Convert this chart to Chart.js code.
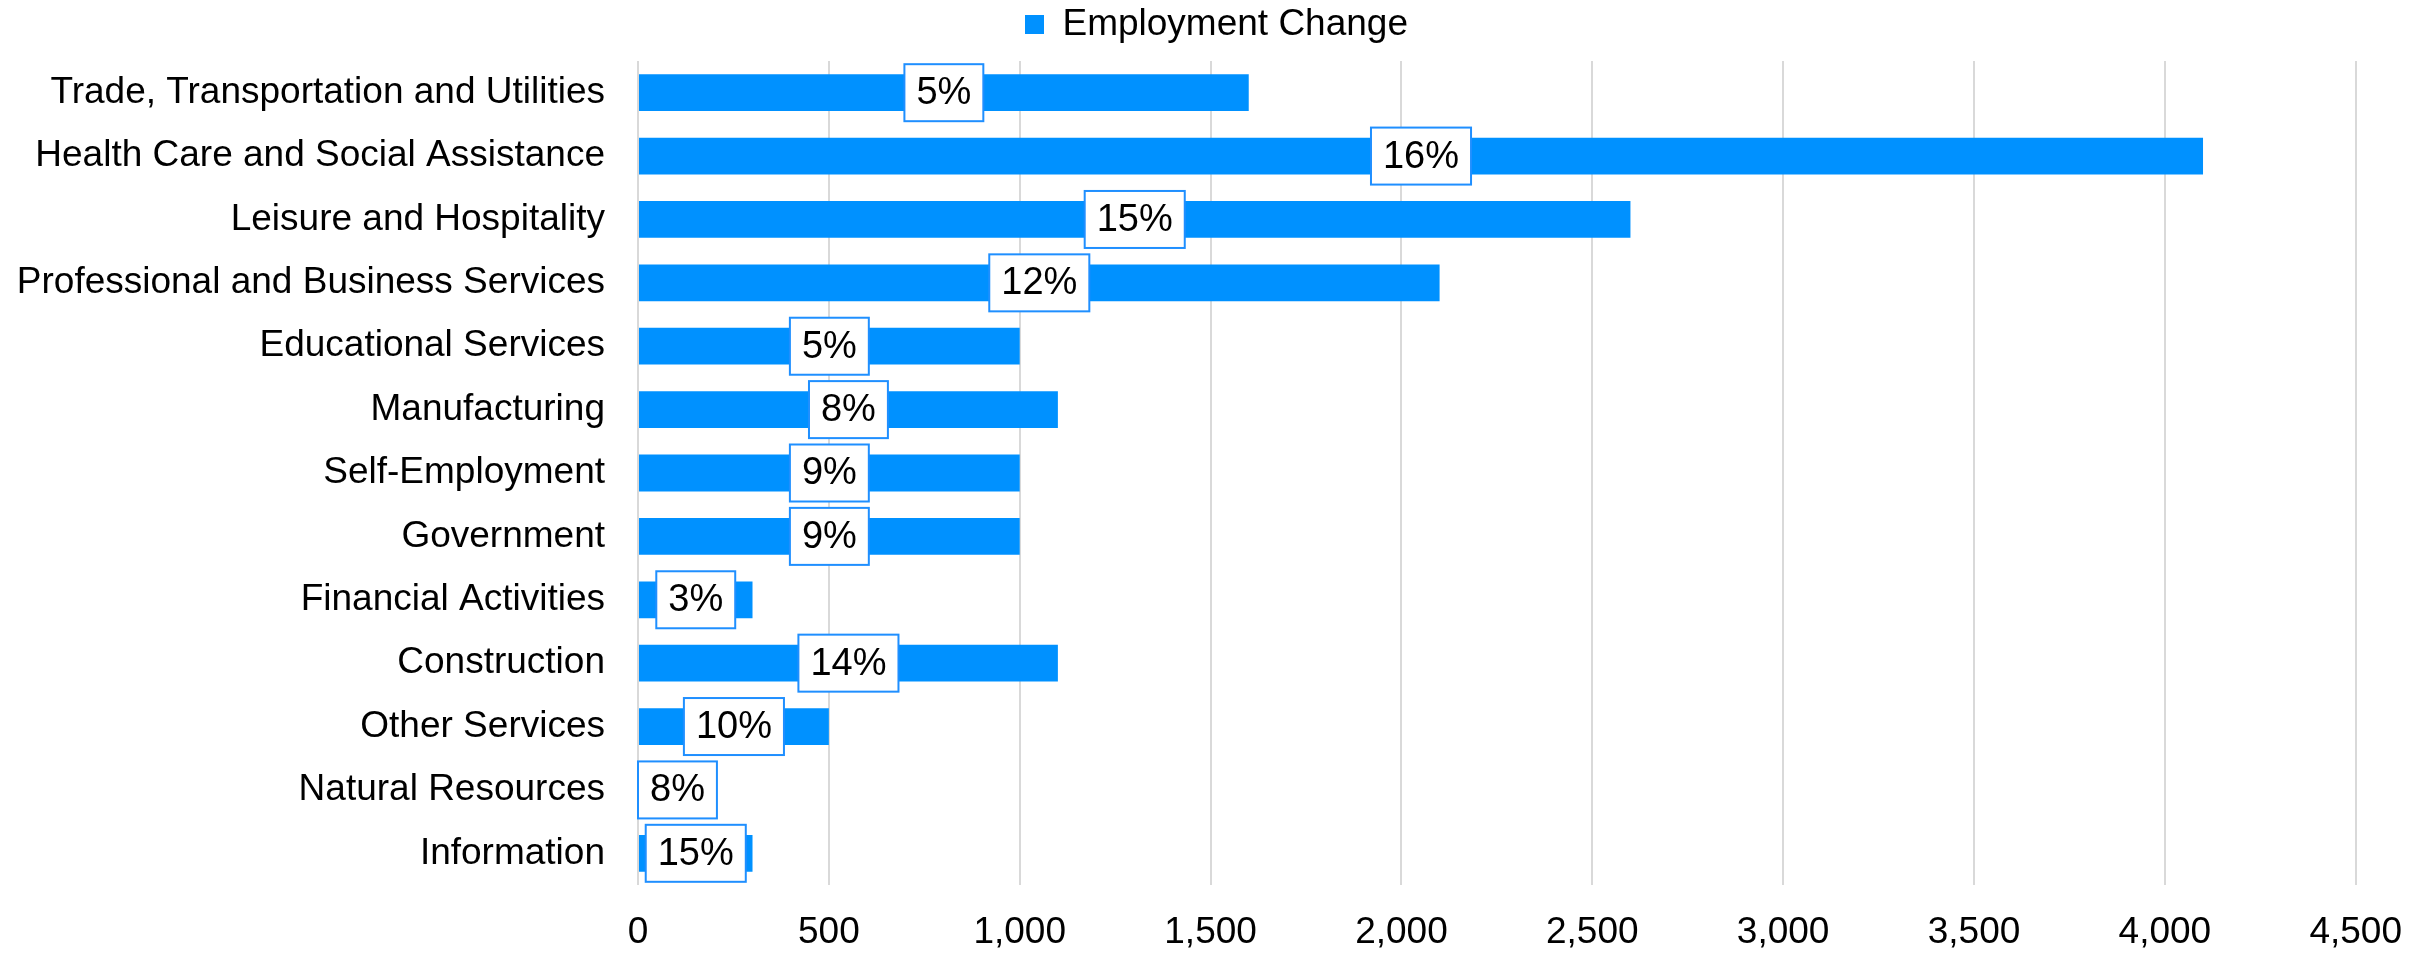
<!DOCTYPE html>
<html>
<head>
<meta charset="utf-8">
<script src="https://cdn.jsdelivr.net/npm/chart.js@4.4.1/dist/chart.umd.min.js"></script>
<style>
  html, body { margin: 0; padding: 0; background: #fff; }
  #wrap { width: 2428px; height: 954px; position: relative; }
</style>
</head>
<body>
<div id="wrap"><canvas id="chart"></canvas></div>
<script>
// categories, top to bottom
const CATEGORIES = [
  "Trade, Transportation and Utilities",
  "Health Care and Social Assistance",
  "Leisure and Hospitality",
  "Professional and Business Services",
  "Educational Services",
  "Manufacturing",
  "Self-Employment",
  "Government",
  "Financial Activities",
  "Construction",
  "Other Services",
  "Natural Resources",
  "Information"
];

// employment change (jobs)
const CHANGE = [1600, 4100, 2600, 2100, 1000, 1100, 1000, 1000, 300, 1100, 500, 50, 300];

// percent labels shown on the bars
const PCT = ["5%", "16%", "15%", "12%", "5%", "8%", "9%", "9%", "3%", "14%", "10%", "8%", "15%"];

const X_MIN = 0;
const X_MAX = 4500;
const X_STEP = 500;

const BLUE = "#0091ff";
const FONT = "'Liberation Sans', Arial, sans-serif";

// boxed % labels in the middle of each bar
const boxLabels = {
  id: "boxLabels",
  afterDatasetsDraw(chart) {
    const ctx = chart.ctx;
    const area = chart.chartArea;
    const meta = chart.getDatasetMeta(0);
    ctx.save();
    ctx.font = "38px " + FONT;
    ctx.textAlign = "center";
    ctx.textBaseline = "middle";
    meta.data.forEach((bar, i) => {
      const txt = PCT[i];
      const w = ctx.measureText(txt).width + 24;
      const h = 57;
      let cx = (bar.x + bar.base) / 2;
      let left = cx - w / 2;
      if (left < area.left) left = area.left;
      cx = left + w / 2;
      const top = bar.y - h / 2;
      ctx.fillStyle = "#fff";
      ctx.fillRect(left, top, w, h);
      ctx.strokeStyle = "#1f8fff";
      ctx.lineWidth = 2;
      ctx.strokeRect(left, top, w, h);
      ctx.fillStyle = "#000";
      ctx.fillText(txt, cx, bar.y + 1);
    });
    ctx.restore();
  }
};

// extra gap under the legend, and legend centred a bit right of the canvas middle
const legendTweak = {
  id: "legendTweak",
  beforeInit(chart) {
    const fit = chart.legend.fit;
    chart.legend.fit = function () {
      fit.bind(chart.legend)();
      this.height += 8;
    };
  },
  afterLayout(chart) {
    chart.legend.left = 76;
  }
};

const ctx = document.getElementById("chart").getContext("2d");

new Chart(ctx, {
  type: "bar",
  data: {
    labels: CATEGORIES,
    datasets: [{
      label: "Employment Change",
      data: CHANGE,
      backgroundColor: BLUE,
      borderWidth: 0,
      barPercentage: 0.58,
      categoryPercentage: 1
    }]
  },
  options: {
    indexAxis: "y",
    responsive: true,
    maintainAspectRatio: false,
    animation: false,
    layout: { padding: { left: 0, right: 71, top: 0, bottom: 2 } },
    plugins: {
      legend: {
        display: true,
        position: "top",
        labels: {
          boxWidth: 19,
          boxHeight: 19,
          padding: 6,
          color: "#000",
          font: { family: FONT, size: 37 }
        }
      },
      tooltip: { enabled: false }
    },
    scales: {
      x: {
        min: X_MIN,
        max: X_MAX,
        ticks: {
          stepSize: X_STEP,
          color: "#000",
          padding: 26,
          font: { family: FONT, size: 37, lineHeight: 1.2 },
          callback: v => v.toLocaleString("en-US")
        },
        grid: { color: "#d9d9d9", lineWidth: 2, drawTicks: false },
        border: { display: false },
        afterFit(scale) { scale.height = 67; }
      },
      y: {
        ticks: {
          color: "#000",
          padding: 33,
          autoSkip: false,
          font: { family: FONT, size: 37 }
        },
        grid: { display: false, drawTicks: false },
        border: { display: false },
        afterFit(scale) { scale.width = 638; }
      }
    }
  },
  plugins: [boxLabels, legendTweak]
});
</script>
</body>
</html>
